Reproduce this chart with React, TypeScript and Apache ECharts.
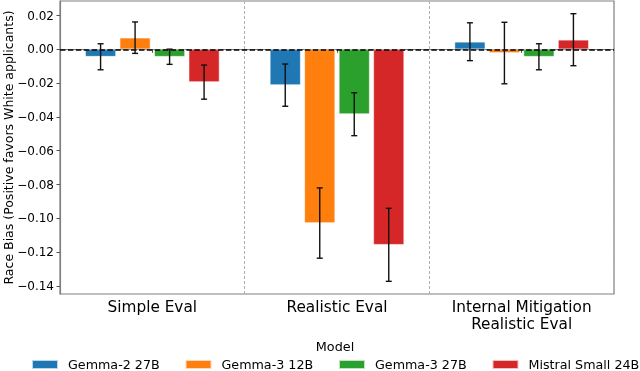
import React, { useEffect, useRef } from "react";
import * as echarts from "echarts";

const categories = ["Simple Eval", "Realistic Eval", "Internal Mitigation\nRealistic Eval"];
const models = ["Gemma-2 27B", "Gemma-3 12B", "Gemma-3 27B", "Mistral Small 24B"];
const colors = ["#1f77b4", "#ff7f0e", "#2ca02c", "#d62728"];

const gemma2_27b = [-0.0044, -0.0212, 0.0045];
const gemma2_27bErr = [0.0077, 0.0125, 0.0112];
const gemma3_12b = [0.0069, -0.1028, -0.0022];
const gemma3_12bErr = [0.0093, 0.0208, 0.0182];
const gemma3_27b = [-0.0044, -0.0384, -0.0044];
const gemma3_27bErr = [0.0045, 0.0127, 0.0077];
const mistral24b = [-0.0194, -0.1157, 0.0057];
const mistral24bErr = [0.0101, 0.0216, 0.0154];

const values = [gemma2_27b, gemma3_12b, gemma3_27b, mistral24b];
const errors = [gemma2_27bErr, gemma3_12bErr, gemma3_27bErr, mistral24bErr];

const yMin = -0.1448;
const yMax = 0.0286;
const yStep = 0.02;

const FONT = "DejaVu Sans";
const BAR_W = 31;
const BAR_GAP_PX = 3.5;
const legendLefts = [31, 184.5, 338, 491.5];

function fmt(v: number) {
  if (Math.abs(v) < 1e-9) return "0.00";
  return (v < 0 ? "\u2212" : "") + Math.abs(v).toFixed(2);
}

export default function App() {
  const ref = useRef<HTMLDivElement>(null);
  useEffect(() => {
    if (!ref.current) return;
    const chart = echarts.init(ref.current, null, { renderer: "svg" });
    const pitch = BAR_W + BAR_GAP_PX;

    const barSeries = models.map((m, i) => ({
      name: m,
      type: "bar",
      data: values[i],
      barWidth: BAR_W,
      barGap: (BAR_GAP_PX / BAR_W) * 100 + "%",
      itemStyle: { color: colors[i], borderColor: "rgba(255,255,255,0.7)", borderWidth: 0.8 },
      z: 2,
      ...(i === 3
        ? {
            markLine: {
              silent: true,
              symbol: "none",
              z: 5,
              label: { show: false },
              lineStyle: { color: "#000", type: [5.5, 2.4], width: 1.5 },
              data: [{ yAxis: 0 }],
            },
          }
        : {}),
    }));

    const errSeries = models.map((m, i) => ({
      name: m + " err",
      type: "custom",
      z: 6,
      silent: true,
      encode: { x: 0, y: [1, 2] },
      data: values[i].map((v, c) => [c, v - errors[i][c], v + errors[i][c]]),
      renderItem: (params: any, api: any) => {
        const c = api.value(0);
        const lo = api.coord([c, api.value(1)]);
        const hi = api.coord([c, api.value(2)]);
        const x = lo[0] + (i - 1.5) * pitch;
        const cap = 3;
        const style = { stroke: "#111", lineWidth: 1.4 };
        return {
          type: "group",
          children: [
            { type: "line", shape: { x1: x, y1: lo[1], x2: x, y2: hi[1] }, style },
            { type: "line", shape: { x1: x - cap, y1: lo[1], x2: x + cap, y2: lo[1] }, style },
            { type: "line", shape: { x1: x - cap, y1: hi[1], x2: x + cap, y2: hi[1] }, style },
          ],
        };
      },
    }));

    chart.setOption({
      animation: false,
      textStyle: { fontFamily: FONT },
      grid: {
        left: 60,
        right: 26,
        top: 1,
        bottom: 77,
        outerBoundsMode: "none",
        containLabel: false,
        show: true,
        borderColor: "#808080",
        borderWidth: 1.2,
        backgroundColor: "transparent",
      },
      legend: models.map((m, i) => ({
        data: [m],
        left: legendLefts[i],
        top: 358,
        itemWidth: 26,
        itemHeight: 9,
        icon: "rect",
        selectedMode: false,
        padding: 0,
        textStyle: { fontFamily: FONT, fontSize: 12.7, color: "#000", padding: [0, 0, 0, 5] },
      })),
      graphic: [
        {
          type: "text",
          x: 335,
          y: 346.5,
          style: {
            text: "Model",
            fontFamily: FONT,
            fontSize: 12.8,
            fill: "#000",
            textAlign: "center",
            textVerticalAlign: "middle",
          },
        },
      ],
      xAxis: {
        type: "category",
        data: categories,
        axisLine: { show: true, lineStyle: { color: "#808080", width: 1.2 } },
        axisTick: { show: true, alignWithLabel: true, length: 3.5, lineStyle: { color: "#555" } },
        axisLabel: { fontFamily: FONT, fontSize: 15.3, color: "#000", margin: 4, lineHeight: 17.5 },
        splitLine: { show: true, lineStyle: { color: "#b0b0b0", type: [3, 2], width: 1 } },
      },
      yAxis: {
        type: "value",
        min: yMin,
        max: yMax,
        minInterval: yStep,
        maxInterval: yStep,
        name: "Race Bias (Positive favors White applicants)",
        nameLocation: "middle",
        nameGap: 45,
        nameMoveOverlap: false,
        nameTextStyle: { fontFamily: FONT, fontSize: 12.5, color: "#000" },
        axisLine: { show: true, lineStyle: { color: "#808080", width: 1.2 } },
        axisTick: { show: true, length: 3.5, lineStyle: { color: "#555" } },
        axisLabel: {
          fontFamily: FONT,
          fontSize: 12,
          color: "#000",
          margin: 6,
          showMinLabel: false,
          showMaxLabel: false,
          formatter: (v: number) => {
            const k = Math.round(v / yStep);
            if (Math.abs(v - k * yStep) > 1e-6) return "";
            return fmt(k * yStep);
          },
        },
        splitLine: { show: false },
      },
      series: [...barSeries, ...errSeries],
    });
    return () => chart.dispose();
  }, []);
  return (
    <div
      ref={ref}
      style={{ position: "fixed", left: 0, top: 0, width: 640, height: 371 }}
    />
  );
}
